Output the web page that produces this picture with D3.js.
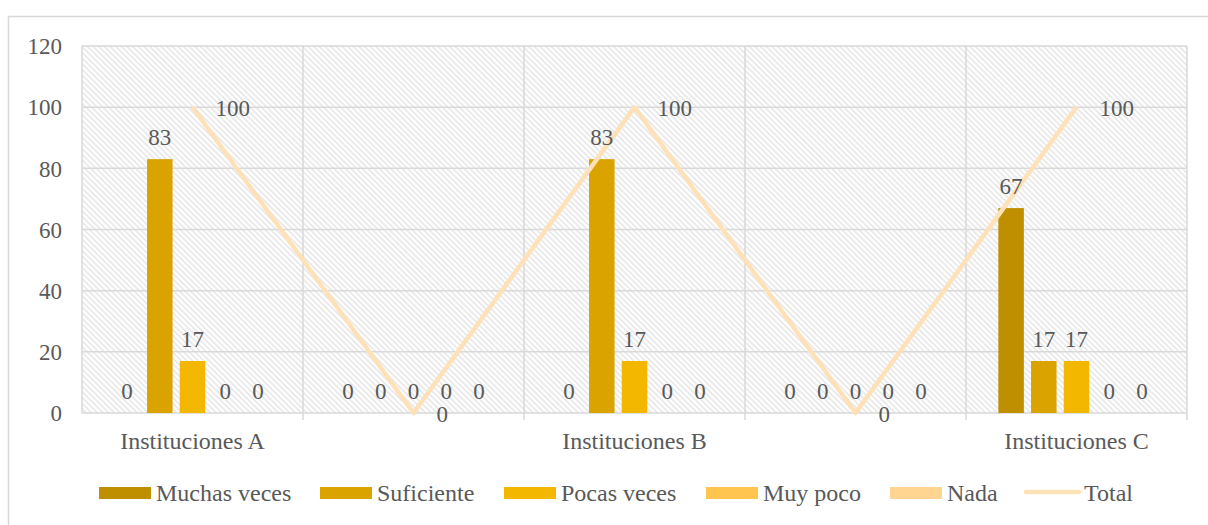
<!DOCTYPE html>
<html>
<head>
<meta charset="utf-8">
<script src="https://cdn.jsdelivr.net/npm/d3@7/dist/d3.min.js"></script>
<style>
  html, body { margin: 0; padding: 0; background: #fff; }
  svg { display: block; }
  text { font-family: "Liberation Serif", "Times New Roman", serif; fill: #595959; }
</style>
</head>
<body>
<svg id="chart" width="1208" height="525"></svg>
<script>
// Categories along the x axis (unnamed groups sit between the institutions)
const categories = ["Instituciones A", "", "Instituciones B", "", "Instituciones C"];

// Bar series, one value per category
const seriesNames = ["Muchas veces", "Suficiente", "Pocas veces", "Muy poco", "Nada"];
const muchasVeces = [0, 0, 0, 0, 67];
const suficiente  = [83, 0, 83, 0, 17];
const pocasVeces  = [17, 0, 17, 0, 17];
const muyPoco     = [0, 0, 0, 0, 0];
const nada        = [0, 0, 0, 0, 0];

// Line series
const total = [100, 0, 100, 0, 100];

// Y axis ticks
const yTicks = [0, 20, 40, 60, 80, 100, 120];

const seriesValues = [muchasVeces, suficiente, pocasVeces, muyPoco, nada];
const barColors = ["#BF8F00", "#DAA300", "#F3B700", "#FFC54F", "#FFD591"];
const lineColor = "#FFE1B8";

const svg = d3.select("#chart");
const W = 1208, H = 525;
const plot = { left: 82, top: 46, right: 1187, bottom: 413 };

// Outer chart border
svg.append("rect")
  .attr("x", 8.5).attr("y", 16.5)
  .attr("width", W + 10).attr("height", H + 10)
  .attr("fill", "#fff").attr("stroke", "#d9d9d9").attr("stroke-width", 1.5);

// Hatched plot-area fill
const defs = svg.append("defs");
const pat = defs.append("pattern")
  .attr("id", "hatch")
  .attr("patternUnits", "userSpaceOnUse")
  .attr("width", 4).attr("height", 4)
  .attr("patternTransform", "rotate(-45)");
pat.append("rect").attr("width", 4).attr("height", 4).attr("fill", "#fff");
pat.append("line")
  .attr("x1", 1).attr("y1", 0).attr("x2", 1).attr("y2", 4)
  .attr("stroke", "#e0e0e0").attr("stroke-width", 1.3);

const x = d3.scaleBand().domain(d3.range(categories.length))
  .range([plot.left, plot.right]).paddingInner(0).paddingOuter(0);
const y = d3.scaleLinear().domain([0, 120]).range([plot.bottom, plot.top]);

svg.append("rect")
  .attr("x", plot.left).attr("y", plot.top)
  .attr("width", plot.right - plot.left).attr("height", plot.bottom - plot.top)
  .attr("fill", "url(#hatch)");

// Horizontal gridlines
svg.append("g").selectAll("line").data(yTicks).join("line")
  .attr("x1", plot.left).attr("x2", plot.right)
  .attr("y1", d => y(d)).attr("y2", d => y(d))
  .attr("stroke", "#d9d9d9").attr("stroke-width", 1.5);

// Vertical gridlines at category boundaries, extended as tick marks below the axis
const bounds = d3.range(categories.length + 1).map(i =>
  i < categories.length ? x(i) : x(categories.length - 1) + x.bandwidth());
svg.append("g").selectAll("line").data(bounds).join("line")
  .attr("x1", d => d).attr("x2", d => d)
  .attr("y1", plot.top).attr("y2", (d, i) => (i === 0 ? plot.bottom : plot.bottom + 7))
  .attr("stroke", "#d9d9d9").attr("stroke-width", 1.5);

// Y axis labels
const yAxis = d3.axisLeft(y).tickValues(yTicks).tickSize(0).tickPadding(20);
const gy = svg.append("g").attr("transform", `translate(${plot.left},0)`).call(yAxis);
gy.select(".domain").remove();
gy.selectAll("text")
  .attr("font-size", 23).attr("fill", "#595959").attr("dy", "0.34em");

// X axis category labels
const xAxis = d3.axisBottom(x).tickFormat(i => categories[i]).tickSize(0).tickPadding(19);
const gx = svg.append("g").attr("transform", `translate(0,${plot.bottom})`).call(xAxis);
gx.select(".domain").remove();
gx.selectAll("text")
  .attr("font-size", 24).attr("fill", "#595959").attr("dy", "0.71em");

// Grouped bars
const groupHalf = 81.75;
const inner = d3.scaleBand().domain(d3.range(seriesNames.length))
  .range([-groupHalf, groupHalf]).paddingInner(0.22).paddingOuter(0.11);

const bars = [];
seriesValues.forEach((vals, s) => {
  vals.forEach((v, c) => bars.push({ s, c, v }));
});
const cx = d => x(d.c) + x.bandwidth() / 2 + inner(d.s);

svg.append("g").selectAll("rect").data(bars).join("rect")
  .attr("x", cx)
  .attr("y", d => y(d.v))
  .attr("width", inner.bandwidth())
  .attr("height", d => y(0) - y(d.v))
  .attr("fill", d => barColors[d.s]);

// Total line
const center = i => x(i) + x.bandwidth() / 2;
const line = d3.line().x((d, i) => center(i)).y(d => y(d));
svg.append("path")
  .datum(total)
  .attr("d", line)
  .attr("fill", "none")
  .attr("stroke", lineColor)
  .attr("stroke-width", 4.5)
  .attr("stroke-linejoin", "round");

// Value labels, drawn on top of bars and line
svg.append("g").selectAll("text").data(bars).join("text")
  .attr("x", d => cx(d) + inner.bandwidth() / 2)
  .attr("y", d => y(d.v) - 14)
  .attr("text-anchor", "middle")
  .attr("font-size", 23).attr("fill", "#404040")
  .text(d => d.v);

svg.append("g").selectAll("text").data(total).join("text")
  .attr("x", (d, i) => center(i) + 23)
  .attr("y", d => y(d) + 9)
  .attr("font-size", 23).attr("fill", "#404040")
  .text(d => d);

// Legend
const legendY = 493;
const legendItems = [
  { name: seriesNames[0], color: barColors[0], x: 99 },
  { name: seriesNames[1], color: barColors[1], x: 320 },
  { name: seriesNames[2], color: barColors[2], x: 504 },
  { name: seriesNames[3], color: barColors[3], x: 706 },
  { name: seriesNames[4], color: barColors[4], x: 890 },
  { name: "Total", color: lineColor, x: 1024, isLine: true }
];
const lg = svg.append("g").selectAll("g").data(legendItems).join("g")
  .attr("transform", d => `translate(${d.x},${legendY})`);
lg.filter(d => !d.isLine).append("rect")
  .attr("x", 0).attr("y", -6).attr("width", 52).attr("height", 12)
  .attr("fill", d => d.color);
lg.filter(d => d.isLine).append("line")
  .attr("x1", 2).attr("x2", 55).attr("y1", -1).attr("y2", -1)
  .attr("stroke", d => d.color).attr("stroke-width", 4.5).attr("stroke-linecap", "round");
lg.append("text")
  .attr("x", d => (d.isLine ? 60 : 57))
  .attr("y", 8)
  .attr("font-size", 24).attr("fill", "#595959")
  .text(d => d.name);
</script>
</body>
</html>
